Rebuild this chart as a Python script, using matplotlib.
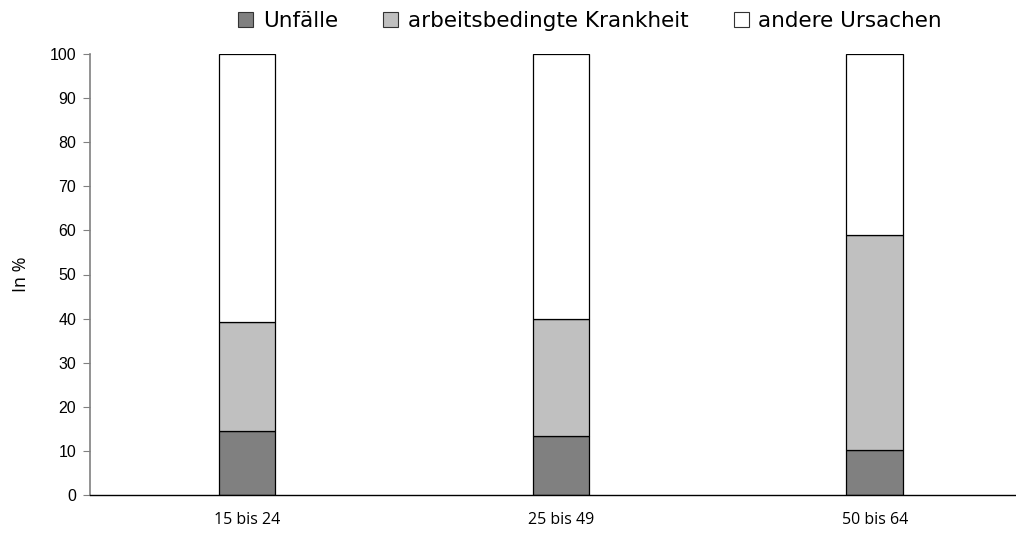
import numpy as np
import matplotlib.pyplot as plt
from matplotlib.patches import Patch

# Data
groups = ["15 bis 24", "25 bis 49", "50 bis 64"]
unfaelle = [14.5, 13.4, 10.2]
krankheit = [24.7, 26.5, 48.8]
andere = [100 - a - b for a, b in zip(unfaelle, krankheit)]

labels = ["Unfälle", "arbeitsbedingte Krankheit", "andere Ursachen"]
colors = ["#808080", "#c0c0c0", "#ffffff"]

fig = plt.figure(figsize=(10.16, 5.35), dpi=100)
ax = fig.add_axes([90 / 1016, 40 / 535, 926 / 1016, 441 / 535])

x = np.arange(len(groups))
w = 0.18
bottom = np.zeros(len(groups))
for vals, c in zip([unfaelle, krankheit, andere], colors):
    ax.bar(x, vals, w, bottom=bottom, color=c, edgecolor="#000000", linewidth=0.9)
    bottom += np.array(vals)

ax.set_xlim(-0.5, 2.45)
ax.set_ylim(0, 100)
ax.set_yticks(range(0, 101, 10))
ax.set_xticks(x)
ax.set_xticklabels(groups, fontsize=11.5, family="Open Sans")
ax.tick_params(axis="x", length=0, pad=12)
ax.tick_params(axis="y", length=5, color="#808080", labelsize=11.5, pad=5)
for t in ax.get_yticklabels():
    t.set_family("Liberation Sans")
ax.set_ylabel("In %", fontsize=13, family="Open Sans", labelpad=14)

ax.spines["top"].set_visible(False)
ax.spines["right"].set_visible(False)
ax.spines["left"].set_color("#808080")
ax.spines["left"].set_linewidth(1.2)
ax.spines["bottom"].set_color("#000000")
ax.spines["bottom"].set_linewidth(1.0)

handles = [Patch(facecolor=c, edgecolor="#333333", linewidth=0.8) for c in colors]
fig.legend(handles, labels, loc="center", bbox_to_anchor=(590 / 1016, 1 - 21 / 535),
           ncol=3, frameon=False, prop={"family": "DejaVu Sans", "size": 15.5},
           handlelength=0.7, handleheight=0.7, handletextpad=0.45, columnspacing=2.1)

fig.savefig("out.png", dpi=100)
